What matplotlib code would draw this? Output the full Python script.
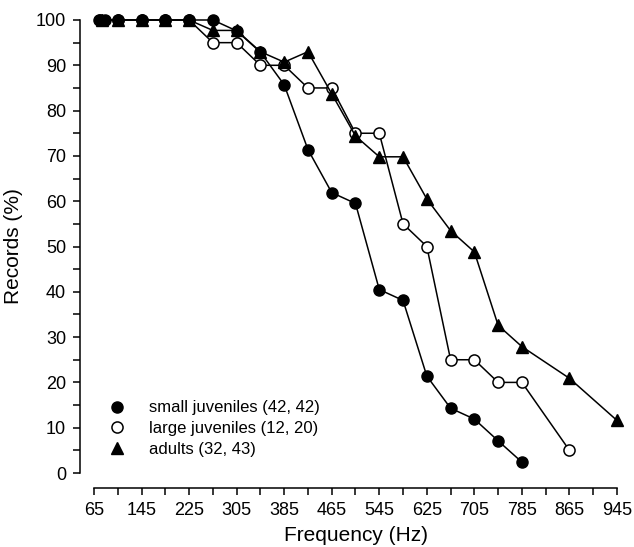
import numpy as np
import matplotlib.pyplot as plt
from matplotlib.lines import Line2D

plt.rcParams['font.family'] = ['Liberation Sans', 'DejaVu Sans']

# 频率 (Hz) 与记录百分比
small_x = [73, 84, 105, 145, 185, 225, 265, 305, 345, 385, 425, 465, 505,
           545, 585, 625, 665, 705, 745, 785]
small_y = [100, 100, 100, 100, 100, 100, 100, 97.6, 92.9, 85.7, 71.4, 61.9,
           59.5, 40.5, 38.1, 21.4, 14.3, 11.9, 7.1, 2.4]

large_x = [75, 105, 145, 185, 225, 265, 305, 345, 385, 425, 465, 505, 545,
           585, 625, 665, 705, 745, 785, 865]
large_y = [100, 100, 100, 100, 100, 95, 95, 90, 90, 85, 85, 75, 75, 55, 50,
           25, 25, 20, 20, 5]

adult_x = [78, 105, 145, 185, 225, 265, 305, 345, 385, 425, 465, 505, 545,
           585, 625, 665, 705, 745, 785, 865, 945]
adult_y = [100, 100, 100, 100, 100, 97.7, 97.7, 93.0, 90.7, 93.0, 83.7, 74.4,
           69.8, 69.8, 60.5, 53.5, 48.8, 32.6, 27.9, 20.9, 11.6]

labels = ['small juveniles (42, 42)', 'large juveniles (12, 20)', 'adults (32, 43)']

fig = plt.figure(figsize=(6.34, 5.47), dpi=100)
ax = fig.add_axes([94/634, 74/547, 523/634, 453/547])

ax.plot(large_x, large_y, '-o', color='black', mfc='white', mec='black',
        ms=8, mew=1.1, lw=1.1, clip_on=False, zorder=3)
ax.plot(adult_x, adult_y, '-^', color='black', ms=8.5, lw=1.1,
        clip_on=False, zorder=4)
ax.plot(small_x, small_y, '-o', color='black', ms=8, lw=1.1,
        clip_on=False, zorder=5)

ax.set_xlim(65, 945)
ax.set_ylim(0, 100)

for s in ['top', 'right']:
    ax.spines[s].set_visible(False)
ax.spines['left'].set_position(('outward', 10))
ax.spines['bottom'].set_position(('outward', 11))
ax.spines['left'].set_linewidth(1.1)
ax.spines['bottom'].set_linewidth(1.1)

ax.set_xticks(np.arange(65, 946, 80))
ax.set_xticks(np.arange(105, 946, 80), minor=True)
ax.set_yticks(np.arange(0, 101, 10))
ax.set_yticks(np.arange(5, 101, 10), minor=True)
ax.tick_params(which='both', direction='out', length=5, width=1.1,
               labelsize=13)
ax.tick_params(axis='x', pad=5)
ax.tick_params(axis='y', pad=5)

ax.set_xlabel('Frequency (Hz)', fontsize=15, labelpad=5)
ax.set_ylabel('Records (%)', fontsize=15, labelpad=9)

handles = [Line2D([], [], ls='none', marker='o', color='black', ms=8),
           Line2D([], [], ls='none', marker='o', mfc='white', mec='black', ms=8, mew=1.1),
           Line2D([], [], ls='none', marker='^', color='black', ms=8.5)]
ax.legend(handles, labels, loc='upper left', bbox_to_anchor=(0.0, 0.175),
          frameon=False, fontsize=12, handletextpad=0.9,
          labelspacing=0.35, borderaxespad=0)

fig.savefig('out.png', dpi=100)
